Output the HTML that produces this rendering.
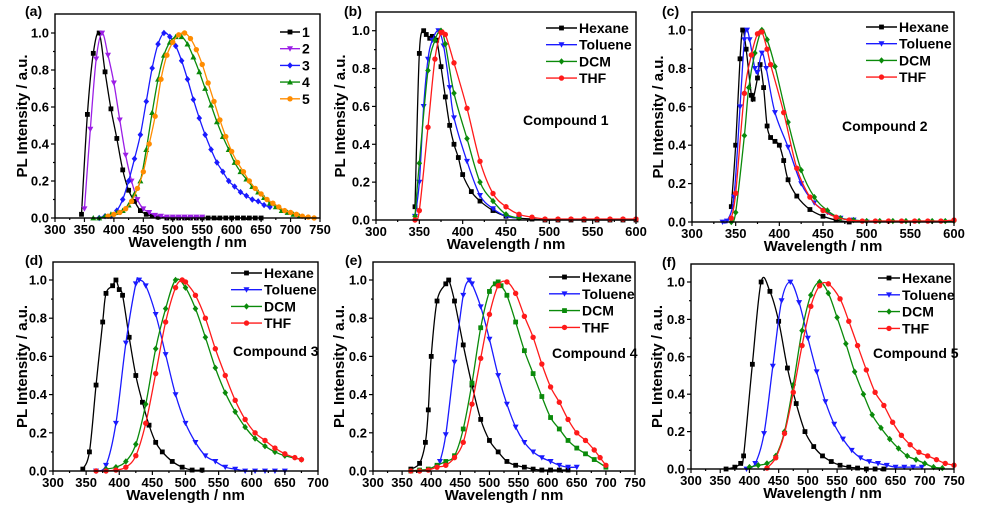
<!DOCTYPE html>
<html><head><meta charset="utf-8"><style>
html,body{margin:0;padding:0;background:#fff;}
svg{display:block;font-family:"Liberation Sans",Arial,sans-serif;font-weight:bold;}
</style></head><body>
<svg id="fig" width="989" height="510" viewBox="0 0 989 510"></svg>
<script>
// ---------- data ----------
// Panel (a)
const aWl1=[345,355,365,375,385,395,405,415,425,435,445,455,465,475,490,500,510,520,530,540,550,560,570,580,590,600,610,620,630,640,650];
const aPl1=[0.02,0.56,0.89,1.0,0.79,0.59,0.43,0.26,0.15,0.09,0.04,0.02,0.01,0.005,0,0,0,0,0,0,0,0,0,0,0,0,0,0,0,0,0];
const aWl2=[350,360,370,380,390,400,410,420,430,440,450,460,470,480,490,500,510,520,530,540,550];
const aPl2=[0.05,0.48,0.86,1.0,0.88,0.73,0.53,0.34,0.2,0.1,0.05,0.03,0.015,0.01,0.005,0.005,0.005,0.005,0.005,0.005,0.005];
const aWl3=[375,385,395,405,415,425,435,445,455,465,475,485,495,505,515,525,535,545,555,565,575,585,595,605,615,625,635,645,655,665];
const aPl3=[0,0.01,0.01,0.04,0.1,0.2,0.32,0.45,0.63,0.81,0.94,1.0,0.98,0.93,0.85,0.75,0.64,0.54,0.45,0.37,0.3,0.25,0.2,0.17,0.14,0.12,0.1,0.09,0.07,0.06];
const aWl4=[365,375,385,395,405,415,425,435,445,455,465,475,485,495,505,515,525,535,545,555,565,575,585,595,605,615,625,635,645,655,665,675,685,695,705,715];
const aPl4=[0,0,0.01,0.02,0.03,0.04,0.07,0.13,0.2,0.37,0.57,0.75,0.88,0.95,0.98,0.98,0.94,0.87,0.79,0.7,0.61,0.52,0.44,0.37,0.3,0.25,0.21,0.17,0.14,0.11,0.08,0.06,0.04,0.03,0.02,0.01];
const aWl5=[390,400,410,420,430,440,450,460,470,480,490,500,510,520,530,540,550,560,570,580,590,600,610,620,630,640,650,660,670,680,690,700,710,720,730,740];
const aPl5=[0.01,0.02,0.03,0.05,0.09,0.16,0.25,0.4,0.55,0.75,0.88,0.95,0.99,1.0,0.97,0.91,0.83,0.73,0.63,0.53,0.44,0.36,0.3,0.25,0.2,0.16,0.13,0.1,0.08,0.06,0.04,0.03,0.02,0.01,0.005,0];
// Panel (b) compound 1
const bWlHex=[345,350,355,358,362,365,370,375,380,385,390,395,400,410,420,435,450,465,480,495,510,525,540,555,570,585,600];
const bPlHex=[0.07,0.88,1.0,0.98,0.96,0.97,0.95,0.81,0.65,0.5,0.4,0.33,0.24,0.15,0.1,0.05,0.02,0.01,0.005,0,0,0,0,0,0,0,0];
const bWlTol=[345,350,355,360,365,372,378,385,390,405,420,435,450,465];
const bPlTol=[0.02,0.2,0.6,0.85,0.95,1.0,0.92,0.7,0.54,0.31,0.13,0.06,0.02,0.01];
const bWlDcm=[345,350,360,368,375,380,390,405,420,435,450,465];
const bPlDcm=[0.02,0.3,0.79,0.95,1.0,0.93,0.67,0.43,0.2,0.1,0.03,0.01];
const bWlThf=[345,350,360,368,375,380,390,405,420,435,450,465,480,495,510,525,540,555,570,585,600];
const bPlThf=[0,0.05,0.49,0.85,0.99,0.98,0.83,0.59,0.31,0.14,0.07,0.03,0.015,0.005,0.005,0.005,0.005,0.005,0.005,0.005,0.005];
// Panel (c) compound 2
const cWlHex=[345,350,355,358,362,368,370,375,378,382,386,390,395,400,405,410,420,435,450,465,480];
const cPlHex=[0.08,0.4,0.85,1.0,0.9,0.66,0.64,0.75,0.82,0.7,0.5,0.44,0.42,0.4,0.32,0.22,0.135,0.065,0.03,0.01,0];
const cWlTol=[335,340,348,355,360,363,366,372,375,380,385,395,410,425,440,455,470,485,500];
const cPlTol=[0,0.005,0.13,0.6,0.95,1.0,0.95,0.8,0.78,0.88,0.8,0.57,0.39,0.2,0.1,0.05,0.02,0.01,0];
const cWlDcm=[345,350,360,365,372,380,386,395,410,425,440,455,470,485,500,515,530,545,560,575,590,600];
const cPlDcm=[0,0.05,0.45,0.7,0.88,1.0,0.95,0.81,0.52,0.27,0.13,0.06,0.02,0.01,0.005,0.005,0.005,0.005,0.005,0.005,0.005,0.005];
const cWlThf=[345,350,360,368,375,380,386,390,405,420,435,450,465,480,495,510,525,540,555,570,585,600];
const cPlThf=[0.02,0.15,0.67,0.87,0.98,0.99,0.9,0.82,0.57,0.28,0.13,0.06,0.025,0.01,0.005,0.005,0.005,0.005,0.005,0.005,0.005,0.01];
// Panel (d) compound 3
const dWlHex=[345,355,365,375,380,390,395,400,405,415,425,435,445,455,465,480,495,510,525];
const dPlHex=[0.01,0.1,0.45,0.78,0.93,0.97,1.0,0.95,0.92,0.7,0.5,0.36,0.24,0.15,0.1,0.05,0.02,0.005,0.005];
const dWlTol=[365,380,395,410,425,430,440,455,470,485,500,515,530,545,560,575,590,605,620,635,650];
const dPlTol=[0,0.03,0.25,0.67,0.98,1.0,0.97,0.82,0.61,0.4,0.25,0.15,0.08,0.05,0.02,0.01,0,0,0,0,0];
const dWlDcm=[380,395,410,425,440,455,470,485,500,515,530,545,560,575,590,605,620,635,650,675];
const dPlDcm=[0.01,0.02,0.05,0.14,0.35,0.64,0.85,1.0,0.96,0.85,0.7,0.54,0.41,0.31,0.23,0.17,0.13,0.1,0.08,0.06];
const dWlThf=[365,380,395,410,425,440,455,470,485,495,500,515,530,545,560,575,590,605,620,635,650,665,675];
const dPlThf=[0,0,0.005,0.02,0.08,0.25,0.51,0.78,0.96,1.0,0.99,0.92,0.8,0.64,0.5,0.37,0.27,0.2,0.16,0.12,0.09,0.07,0.06];
// Panel (e) compound 4
const eWlHex=[365,380,390,395,400,410,425,430,440,455,470,485,500,515,530,545,560,575,590,605,620,635];
const ePlHex=[0.01,0.04,0.15,0.32,0.6,0.89,0.98,1.0,0.89,0.66,0.45,0.27,0.16,0.1,0.05,0.03,0.02,0.01,0.005,0.005,0.005,0.005];
const eWlTol=[410,415,425,440,455,465,470,485,500,515,530,545,560,575,590,605,620,635,650];
const ePlTol=[0.02,0.05,0.19,0.57,0.92,1.0,0.98,0.86,0.69,0.5,0.35,0.23,0.15,0.1,0.07,0.05,0.03,0.02,0.02];
const eWlDcm=[365,380,395,410,425,440,455,470,485,500,510,515,520,530,545,560,575,590,605,620,635,650,665,680,700];
const ePlDcm=[0,0.005,0.01,0.03,0.05,0.08,0.22,0.46,0.75,0.94,0.98,0.99,0.97,0.92,0.78,0.63,0.51,0.39,0.28,0.22,0.16,0.12,0.09,0.06,0.02];
const eWlThf=[365,380,395,410,425,440,455,470,485,500,515,530,545,560,575,590,605,620,635,650,665,680,690,700];
const ePlThf=[0,0,0.005,0.02,0.03,0.07,0.15,0.35,0.59,0.82,0.97,0.99,0.93,0.81,0.7,0.56,0.44,0.36,0.27,0.2,0.16,0.11,0.07,0.03];
// Panel (f) compound 5
const fWlHex=[360,375,385,390,405,420,435,450,465,480,495,510,525,540,555,570,585,600,615,630];
const fPlHex=[0,0.01,0.03,0.07,0.56,1.0,0.95,0.79,0.54,0.35,0.2,0.12,0.07,0.04,0.02,0.01,0.005,0,0,0];
const fWlTol=[395,410,425,440,455,470,485,500,515,530,545,560,575,590,605,620,635,650,665,680,695];
const fPlTol=[0,0.03,0.19,0.55,0.9,1.0,0.89,0.7,0.52,0.36,0.24,0.16,0.1,0.06,0.04,0.03,0.02,0.01,0.01,0.01,0.01];
const fWlDcm=[400,415,430,445,460,475,490,505,520,535,550,565,580,595,610,625,640,655,670,685,700,715,730];
const fPlDcm=[0.01,0.02,0.03,0.07,0.2,0.45,0.74,0.93,1.0,0.94,0.81,0.67,0.52,0.4,0.29,0.22,0.16,0.11,0.07,0.05,0.03,0.01,0.005];
const fWlThf=[430,445,460,475,490,505,520,535,555,570,585,600,615,630,645,660,675,690,705,720,735,750];
const fPlThf=[0.005,0.06,0.19,0.41,0.66,0.87,0.98,0.99,0.91,0.79,0.66,0.53,0.41,0.34,0.25,0.18,0.13,0.09,0.07,0.05,0.03,0.02];

const yTicks=[0,0.2,0.4,0.6,0.8,1.0];
const solventNames=["Hexane","Toluene","DCM","THF"];

// ---------- drawing ----------
const NS="http://www.w3.org/2000/svg";
const svg=document.getElementById('fig');
function mk(tag,attrs,parent){const e=document.createElementNS(NS,tag);for(const k in attrs)e.setAttribute(k,attrs[k]);(parent||svg).appendChild(e);return e;}

function marker(g,shape,x,y,color){
  const s=2.4;let e;
  if(shape==='square')e=mk('rect',{x:x-s,y:y-s,width:2*s,height:2*s,fill:color},g);
  else if(shape==='circle')e=mk('circle',{cx:x,cy:y,r:s+0.3,fill:color},g);
  else if(shape==='tdown')e=mk('polygon',{points:`${x-s-0.6},${y-s} ${x+s+0.6},${y-s} ${x},${y+s+0.6}`,fill:color},g);
  else if(shape==='tup')e=mk('polygon',{points:`${x-s-0.6},${y+s} ${x+s+0.6},${y+s} ${x},${y-s-0.6}`,fill:color},g);
  else e=mk('polygon',{points:`${x},${y-s-0.8} ${x+s+0.4},${y} ${x},${y+s+0.8} ${x-s-0.4},${y}`,fill:color},g);
  
  
}

function smoothPath(pts){
  let d=`M${pts[0][0]},${pts[0][1]}`;
  for(let i=0;i<pts.length-1;i++){
    const p0=pts[i-1]||pts[i],p1=pts[i],p2=pts[i+1],p3=pts[i+2]||p2;
    const c1=[p1[0]+(p2[0]-p0[0])/6,p1[1]+(p2[1]-p0[1])/6];
    const c2=[p2[0]-(p3[0]-p1[0])/6,p2[1]-(p3[1]-p1[1])/6];
    d+=` C${c1[0].toFixed(2)},${c1[1].toFixed(2)} ${c2[0].toFixed(2)},${c2[1].toFixed(2)} ${p2[0].toFixed(2)},${p2[1].toFixed(2)}`;
  }
  return d;
}

function panel(p){
  const g=mk('g',{});
  
  
  const X=v=>p.L+(v-p.xmin)/(p.xmax-p.xmin)*(p.R-p.L);
  const Y=v=>p.B-v*(p.B-p.y1);
  // series
  p.series.forEach((s,si)=>{
    const sg=mk('g',{},g);
    
    
    const pts=s.wl.map((w,i)=>[X(w),Y(s.pl[i])]);
    mk('path',{d:smoothPath(pts),fill:'none',stroke:s.color,'stroke-width':1.3},sg);
    pts.forEach(q=>marker(sg,s.shape,q[0],q[1],s.color));
  });
  // frame
  const fr=mk('rect',{x:p.L,y:p.T,width:p.R-p.L,height:p.B-p.T,fill:'none',stroke:'#000','stroke-width':1.4},g);
  
  
  // x ticks
  for(let v=p.xmin;v<=p.xmax+0.1;v+=25){
    const major=((v-p.xmin)%50===0);
    mk('line',{x1:X(v),x2:X(v),y1:p.B,y2:p.B+(major?4:2),stroke:'#000','stroke-width':1.2},g);
    if(major){
      const t=mk('text',{x:X(v),y:p.B+16,'text-anchor':'middle','font-size':13},g);
      t.textContent=v;
      
      
    }
  }
  for(let i=0;i<=10;i++){
    const v=i/10,major=i%2===0;
    mk('line',{x1:p.L,x2:p.L-(major?4:2),y1:Y(v),y2:Y(v),stroke:'#000','stroke-width':1.2},g);
  }
  yTicks.forEach(v=>{
    const t=mk('text',{x:p.L-6,y:Y(v)+4.5,'text-anchor':'end','font-size':13},g);
    t.textContent=v.toFixed(1);
    
    
  });
  const xt=mk('text',{x:(p.L+p.R)/2,y:p.B+29,'text-anchor':'middle','font-size':15},g);
  xt.textContent='Wavelength / nm';
  
  
  const cy=(p.T+p.B)/2;
  const yt=mk('text',{x:p.ylx,y:cy,'text-anchor':'middle','font-size':15,transform:`rotate(-90 ${p.ylx} ${cy})`},g);
  yt.textContent='PL Intensity / a.u.';
  
  
  const pl=mk('text',{x:p.lx,y:p.ly,'font-size':14},g);
  pl.textContent='('+p.id+')';
  
  
  // legend
  p.series.forEach((s,i)=>{
    const ly=p.legY+i*p.legDy;
    const lg=mk('g',{},g);
    
    
    mk('line',{x1:p.legX,x2:p.legX+p.legW,y1:ly,y2:ly,stroke:s.color,'stroke-width':1.4},lg);
    marker(lg,s.shape,p.legX+p.legW/2,ly,s.color);
    const t=mk('text',{x:p.legX+p.legW+2,y:ly+5,'font-size':14},lg);
    t.textContent=s.name;
  });
  if(p.comp){
    const c=mk('text',{x:p.comp[0],y:p.comp[1]+5,'font-size':14},g);
    c.textContent=p.comp[2];
    
    
  }
}
const K='#000',B='#1a1aff',G='#0a8a0a',Rr='#ff1a1a';
function solv(wls,pls,dcmShape){
  const cols=[K,B,G,Rr],shp=['square','tdown',dcmShape||'diamond','circle'];
  return solventNames.map((n,i)=>({name:n,wl:wls[i],pl:pls[i],color:cols[i],shape:shp[i]}));
}
panel({id:'a',L:55,R:320,T:14,B:218,y1:33,xmin:300,xmax:750,ylx:27,lx:25,ly:16,legX:280,legW:20,legY:32,legDy:16.7,
  series:[{name:'1',wl:aWl1,pl:aPl1,color:K,shape:'square'},{name:'2',wl:aWl2,pl:aPl2,color:'#9b1ee6',shape:'tdown'},
  {name:'3',wl:aWl3,pl:aPl3,color:B,shape:'diamond'},{name:'4',wl:aWl4,pl:aPl4,color:G,shape:'tup'},{name:'5',wl:aWl5,pl:aPl5,color:'#ff8c00',shape:'circle'}]});
panel({id:'b',L:376,R:636,T:12,B:220,y1:30.7,xmin:300,xmax:600,ylx:345,lx:344,ly:16,legX:546,legW:31,legY:28,legDy:16.7,comp:[523,120,'Compound 1'],
  series:solv([bWlHex,bWlTol,bWlDcm,bWlThf],[bPlHex,bPlTol,bPlDcm,bPlThf])});
panel({id:'c',L:692,R:954,T:12,B:222,y1:30,xmin:300,xmax:600,ylx:663,lx:662,ly:16,legX:866,legW:31,legY:27,legDy:16.7,comp:[842,126,'Compound 2'],
  series:solv([cWlHex,cWlTol,cWlDcm,cWlThf],[cPlHex,cPlTol,cPlDcm,cPlThf])});
panel({id:'d',L:53,R:318,T:262,B:471,y1:280,xmin:300,xmax:700,ylx:27,lx:25,ly:265,legX:231,legW:31,legY:273,legDy:16.7,comp:[233,351,'Compound 3'],
  series:solv([dWlHex,dWlTol,dWlDcm,dWlThf],[dPlHex,dPlTol,dPlDcm,dPlThf])});
panel({id:'e',L:373,R:635,T:262,B:471,y1:280,xmin:300,xmax:750,ylx:344,lx:345,ly:265,legX:549,legW:31,legY:277,legDy:16.8,comp:[552,353,'Compound 4'],
  series:solv([eWlHex,eWlTol,eWlDcm,eWlThf],[ePlHex,ePlTol,ePlDcm,ePlThf],'square')});
panel({id:'f',L:691,R:954,T:264,B:469,y1:282,xmin:300,xmax:750,ylx:662,lx:662,ly:267,legX:878,legW:22,legY:278,legDy:16.8,comp:[873,353,'Compound 5'],
  series:solv([fWlHex,fWlTol,fWlDcm,fWlThf],[fPlHex,fPlTol,fPlDcm,fPlThf])});
</script>
</body></html>
